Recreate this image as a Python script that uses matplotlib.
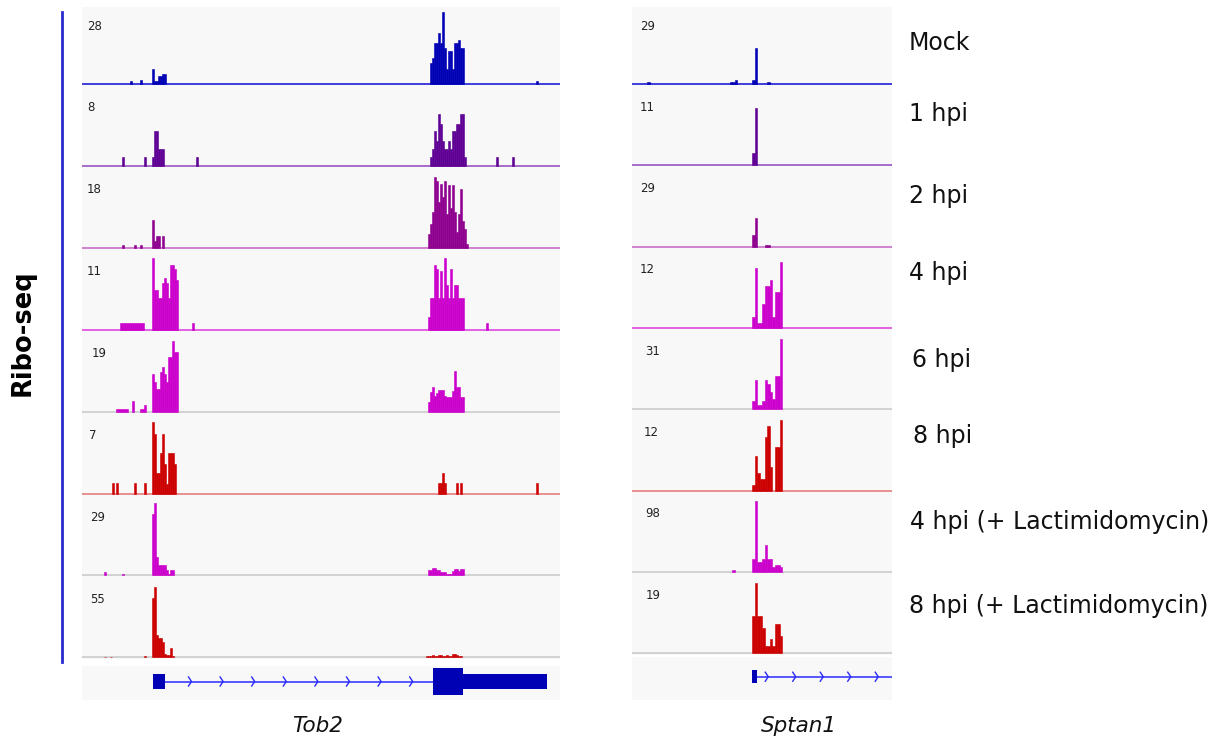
import numpy as np
import matplotlib.pyplot as plt
from matplotlib.patches import Rectangle
from matplotlib.lines import Line2D

# ribosome footprint coverage, binned; each run is (first bin, values...)
conditions = ['Mock', '1 hpi', '2 hpi', '4 hpi', '6 hpi', '8 hpi',
              '4 hpi (+ Lactimidomycin)', '8 hpi (+ Lactimidomycin)']

tob2_scale = [28, 8, 18, 11, 19, 7, 29, 55]
sptan1_scale = [29, 11, 29, 12, 31, 12, 98, 19]

tob2_mock = [(24, [1]), (29, [1.5]), (35, [5.8, 1.3, 1.3, 3, 3, 4, 4]),
             (174, [8, 10, 16, 16, 20, 16, 28, 14, 6, 13, 13, 6, 16, 16, 17, 14, 14]),
             (227, [1])]
tob2_1h = [(20, [1]), (31, [1]), (35, [1, 3.9, 3.9, 1.9, 1.9, 1.9]), (57, [1]),
           (174, [1, 1.9, 3.9, 2.8, 5.8, 4.7, 2.8, 1.9, 1.9, 2.8, 1.9, 3.9, 3.9, 4.7, 4.7, 5.8, 5.8, 1]),
           (207, [1]), (215, [1])]
tob2_2h = [(20, [0.8]), (26, [0.8]), (29, [0.8]), (35, [7, 1.8, 3, 3, 0, 3]),
           (173, [3.5, 6, 9, 17.8, 16.8, 11.4, 16, 12.7, 16.8, 8.5, 15.6, 10, 15.6, 9, 4, 8.5, 14.8, 6.8, 4.8, 1])]
tob2_4h = [(19, [1, 1, 1, 1, 1, 1, 1, 1, 1, 1, 1, 1]),
           (35, [11, 6.1, 6.1, 4.8, 4.8, 7.1, 7.9, 7.1, 4.8, 9.9, 9.9, 9.2, 7.6]), (55, [1]),
           (173, [2, 4.8, 4.8, 9.9, 9.2, 4.8, 9, 4.8, 11, 6.9, 4.8, 9.2, 4.8, 6.9, 6.9, 4.8, 4.8, 4.8]),
           (202, [1])]
tob2_6h = [(17, [0.7, 0.7, 0.7, 0.7, 0.7, 0.7]), (25, [2.7]), (29, [0.6, 0.6]), (31, [1.8]),
           (35, [9.8, 7.7, 6, 6, 10.4, 11.7, 9.9, 7.7, 14.3, 14.3, 18.6, 15.7, 15.7]),
           (173, [2.5, 5.1, 6.6, 4.2, 4.8, 5.7, 5.7, 5.7, 4, 3.8, 3.8, 3.8, 5.5, 10.8, 6.4, 6.4, 3.8, 3.8])]
tob2_8h = [(15, [1]), (17, [1]), (26, [1]), (31, [1]),
           (35, [7, 5.8, 2, 2, 3.9, 5.8, 2.9, 0.9, 3.9, 3.9, 3.9, 2.9]),
           (178, [1, 1, 2, 1]), (187, [1, 0, 1]), (227, [1])]
tob2_4l = [(11, [1.3]), (20, [0.5]), (35, [24.8, 29, 7.4, 4, 4, 4.3, 4.3, 2, 0.7, 2.3, 2.3]),
           (173, [2, 2, 3, 3, 2, 2, 1.3, 1.3, 1.3, 0.7, 0.7, 0.7, 1.6, 2.4, 2.4, 1.6, 2.7, 2.7])]
tob2_8l = [(11, [0.5]), (14, [0.5]), (31, [0.8]), (35, [45, 54, 17, 14.5, 15, 11.5, 2.5, 2, 2, 7, 1.3]),
           (172, [0.8, 1.3, 1.3, 1.5, 1.2, 1.2, 1.5, 1.5, 1, 1.2, 1.5, 1.2, 1, 2.3, 2.3, 1.5, 1.3, 1.3])]

sp_mock = [(6, [0.8]), (39, [0.8, 0.8, 1.6]), (48, [1.6, 14.5]), (54, [0.8])]
sp_1h = [(48, [1.9, 8.7])]
sp_2h = [(48, [4.7, 11.4]), (53, [0.7, 0.7])]
sp_4h = [(48, [1.9, 9.9, 0.9, 0.9, 4, 6.9, 6.9, 7.9, 1.8, 5.9, 5.9, 10.9])]
sp_6h = [(48, [3.6, 12.6, 1.7, 1.7, 3.6, 12.6, 10.8, 7.5, 4.3, 14.3, 14.3, 30.4])]
sp_8h = [(48, [0.9, 5.8, 2.9, 2, 2, 8.9, 10.8, 3.9, 0, 7.2, 7.2, 11.8])]
sp_4l = [(40, [2.3]), (48, [18, 96.6, 12.7, 12.7, 17, 36, 17, 17, 6, 9, 9, 6])]
sp_8l = [(48, [9.7, 18.6, 9.7, 9.7, 6.6, 1.8, 1.8, 3.7, 1.8, 7.7, 7.7, 4.6])]

tob2_tracks = [tob2_mock, tob2_1h, tob2_2h, tob2_4h, tob2_6h, tob2_8h, tob2_4l, tob2_8l]
sptan1_tracks = [sp_mock, sp_1h, sp_2h, sp_4h, sp_6h, sp_8h, sp_4l, sp_8l]

# gene models in bin units: (start, end, kind)
tob2_exons = [(35.3, 41.7, 'utr'), (175.3, 190.3, 'cds'), (190.3, 232.3, 'utr')]
tob2_intron = (41.7, 175.3)
sptan1_exons = [(47.9, 49.9, 'utr')]
sptan1_intron = (49.9, 104)

bar_colors = ['#0000b4', '#5e0094', '#8e008e', '#cc00cc', '#cc00cc', '#cc0000', '#cc00cc', '#cc0000']
base_colors = ['#3030d8', '#a060c8', '#cc78cc', '#e055e0', '#cfcfcf', '#e88888', '#cfcfcf', '#cfcfcf']
bg = '#f8f8f8'

W, H = 1217, 742
fig = plt.figure(figsize=(W / 100, H / 100), dpi=100)


def px_axes(x0, y0, x1, y1):
    ax = fig.add_axes([x0 / W, 1 - y1 / H, (x1 - x0) / W, (y1 - y0) / H])
    ax.set_facecolor(bg)
    for s in ax.spines.values():
        s.set_visible(False)
    ax.set_xticks([])
    ax.set_yticks([])
    return ax


def expand(runs, nbins):
    vals = np.zeros(nbins)
    for start, seg in runs:
        vals[start:start + len(seg)] = seg
    return vals


def draw_panel(x0, x1, nbins, step, tracks, scales, label_dx):
    bases = [84 + step * i for i in range(len(tracks))]
    for i, runs in enumerate(tracks):
        top = 7 if i == 0 else bases[i - 1] + 2
        ax = px_axes(x0, top, x1, bases[i] + 2)
        unit = 72 / scales[i]  # pixels per read
        ax.set_xlim(0, nbins)
        ax.set_ylim(-2 / unit, (bases[i] - top) / unit)
        ax.axhline(0, color=base_colors[i], lw=1.3, zorder=1)
        vals = expand(runs, nbins)
        keep = vals > 0
        ax.bar(np.arange(nbins)[keep], vals[keep], width=1, align='edge',
               color=bar_colors[i], edgecolor=bar_colors[i], linewidth=0.4, zorder=2)
        ax.text(label_dx[i] / (x1 - x0), 58 / unit, str(scales[i]),
                transform=ax.get_yaxis_transform(), fontsize=8.5,
                color='#222222', va='center', ha='left')


def draw_gene(x0, y0, x1, y1, yc, nbins, exons, intron, heights, chev, bin_px):
    ax = px_axes(x0, y0, x1, y1)
    ax.set_xlim(0, nbins)
    ax.set_ylim(-(y1 - yc), yc - y0)
    ax.plot(intron, [0, 0], color='#2a2aff', lw=1.1, zorder=1)
    for c in chev:
        w = 1.5 / bin_px
        ax.plot([c - w, c + w, c - w], [4.5, 0, -4.5], color='#2a2aff', lw=1.0)
    for s, e, kind in exons:
        h = heights[kind]
        ax.add_patch(Rectangle((s, -h / 2), e - s, h, color='#0000b4', lw=0, zorder=2))


draw_panel(82, 560, 239, 81.9, tob2_tracks, tob2_scale, [5, 5, 5, 5, 10, 7, 8, 8])
draw_panel(632, 892, 104, 81.3, sptan1_tracks, sptan1_scale, [8, 8, 8, 8, 13, 12, 13, 14])

draw_gene(82, 666, 560, 700, 681.5, 239, tob2_exons, tob2_intron,
          {'utr': 15, 'cds': 27}, np.arange(54, 175, 15.8), 2.0)
draw_gene(632, 657, 892, 700, 676.7, 104, sptan1_exons, sptan1_intron,
          {'utr': 13, 'cds': 27}, np.arange(53.9, 104, 11), 2.5)

# condition labels on the right
label_base = [49.5, 121.5, 202.5, 280.5, 366.5, 443.5, 529.5, 613.5]
label_x = [909, 909, 909, 909, 912, 913, 910, 909]
for name, yb, xl in zip(conditions, label_base, label_x):
    fig.text(xl / W, 1 - yb / H, name, fontsize=17, color='#111111',
             ha='left', va='baseline')

# gene names
fig.text(318 / W, 1 - 732 / H, 'Tob2', fontsize=15.5, style='italic',
         ha='center', va='baseline', color='#111111')
fig.text(799 / W, 1 - 732 / H, 'Sptan1', fontsize=15.5, style='italic',
         ha='center', va='baseline', color='#111111')

# Ribo-seq bracket
fig.add_artist(Line2D([62 / W, 62 / W], [1 - 12 / H, 1 - 662 / H],
                      color='#2a2acc', lw=2))
fig.text(23 / W, 1 - 333 / H, 'Ribo-seq', fontsize=18.5, fontweight='bold',
         rotation=90, ha='center', va='center')

fig.savefig('out.png', dpi=100)
